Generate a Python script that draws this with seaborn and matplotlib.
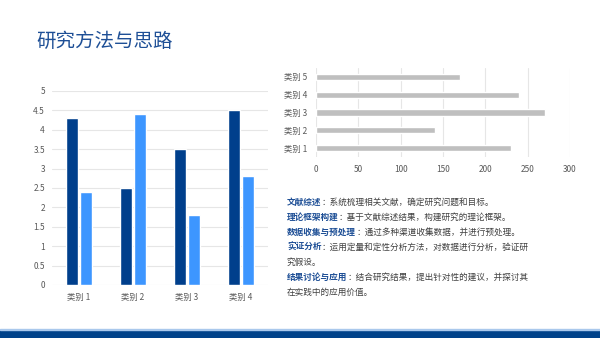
import matplotlib
matplotlib.use("Agg")
import matplotlib.pyplot as plt
import seaborn as sns
import pandas as pd
from matplotlib.patches import Rectangle

sns.set_theme(style="white")
plt.rcParams['font.family'] = ['Noto Sans CJK SC', 'DejaVu Sans']

# ---- data ----
col_categories = ["类别 1", "类别 2", "类别 3", "类别 4"]
series_a = [4.3, 2.5, 3.5, 4.5]
series_b = [2.4, 4.4, 1.8, 2.8]
col_yticks = [0, 0.5, 1, 1.5, 2, 2.5, 3, 3.5, 4, 4.5, 5]
col_yticklabels = ["0", "0.5", "1", "1.5", "2", "2.5", "3", "3.5", "4", "4.5", "5"]

bar_categories = ["类别 1", "类别 2", "类别 3", "类别 4", "类别 5"]
bar_values = [230, 140, 270, 240, 170]
bar_xticks = [0, 50, 100, 150, 200, 250, 300]

title = "研究方法与思路"
bullet_heads = ["文献综述", "理论框架构建", "数据收集与预处理", "实证分析", "", "结果讨论与应用", ""]
bullet_bodies = ["：系统梳理相关文献，确定研究问题和目标。",
                 "：基于文献综述结果，构建研究的理论框架。",
                 "：通过多种渠道收集数据，并进行预处理。",
                 "：运用定量和定性分析方法，对数据进行分析，验证研",
                 "究假设。",
                 "：结合研究结果，提出针对性的建议，并探讨其",
                 "在实践中的应用价值。"]

DARK = "#003F8C"
LIGHT = "#3D96FF"
GRAY = "#BFBFBF"
TITLE_C = "#1E4F96"
TICK_C = "#595959"
GRID_C = "#E6E6E6"

W, H = 600, 338
fig = plt.figure(figsize=(6, 3.38), dpi=100)
fig.patch.set_facecolor("white")

def fx(px):
    return px / W

def fy(py):
    return 1 - py / H

# ---- title ----
fig.text(fx(36), fy(41), title, fontsize=14, color=TITLE_C, va="center",
         ha="left", fontweight="medium")

# ---- left column chart ----
ax1 = fig.add_axes([fx(52), fy(285), fx(268 - 52), (285 - 91) / H])
df1 = pd.DataFrame({
    "cat": col_categories * 2,
    "val": series_a + series_b,
    "ser": ["A"] * len(series_a) + ["B"] * len(series_b),
})
sns.barplot(data=df1, x="cat", y="val", hue="ser", palette=[DARK, LIGHT],
            width=0.51, gap=0.094, ax=ax1, legend=False, saturation=1)
ax1.set_ylim(0, 5)
ax1.set_xlim(-0.5, 3.5)
ax1.set_yticks(col_yticks)
ax1.set_yticklabels(col_yticklabels)
ax1.set_xlabel("")
ax1.set_ylabel("")
ax1.yaxis.grid(True, color=GRID_C, linewidth=0.8)
ax1.set_axisbelow(True)
for s in ax1.spines.values():
    s.set_visible(False)
ax1.tick_params(axis="both", length=0, labelsize=6, colors=TICK_C, pad=5)
ax1.tick_params(axis="x", pad=6)

# ---- right horizontal bar chart ----
ax2 = fig.add_axes([fx(316), fy(157), fx(570 - 316), (157 - 68) / H])
df2 = pd.DataFrame({"cat": bar_categories, "val": bar_values})
sns.barplot(data=df2, x="val", y="cat", order=bar_categories[::-1], color=GRAY,
            width=0.34, ax=ax2, saturation=1, orient="h")
ax2.set_xlim(0, 300)
ax2.set_xticks(bar_xticks)
ax2.set_xlabel("")
ax2.set_ylabel("")
ax2.xaxis.grid(True, color=GRID_C, linewidth=0.8)
ax2.set_axisbelow(True)
for s in ax2.spines.values():
    s.set_visible(False)
ax2.tick_params(axis="both", length=0, labelsize=6, colors=TICK_C, pad=6)

# ---- text block ----
tax = fig.add_axes([0, 0, 1, 1])
tax.axis("off")
tax.set_xlim(0, 1)
tax.set_ylim(0, 1)
line_y = [202, 217, 232, 247, 262, 277, 292]
for head, body, py in zip(bullet_heads, bullet_bodies, line_y):
    if head:
        t = tax.text(fx(287), fy(py), head, fontsize=6.2, color=TITLE_C,
                     fontweight="bold", va="center", ha="left")
        tax.annotate(body, xy=(1, 0.5), xycoords=t, va="center", ha="left",
                     fontsize=6.2, color="#404040")
    else:
        tax.text(fx(287), fy(py), body, fontsize=6.2, color="#404040",
                 va="center", ha="left")

# ---- footer bands ----
tax.add_patch(Rectangle((0, 0), 1, 8 / H, transform=fig.transFigure,
                        color="#00428A", zorder=5))
tax.add_patch(Rectangle((0, 8 / H), 1, 1.5 / H, transform=fig.transFigure,
                        color="#A9C8EC", zorder=5))

fig.savefig("out.png", dpi=100)
